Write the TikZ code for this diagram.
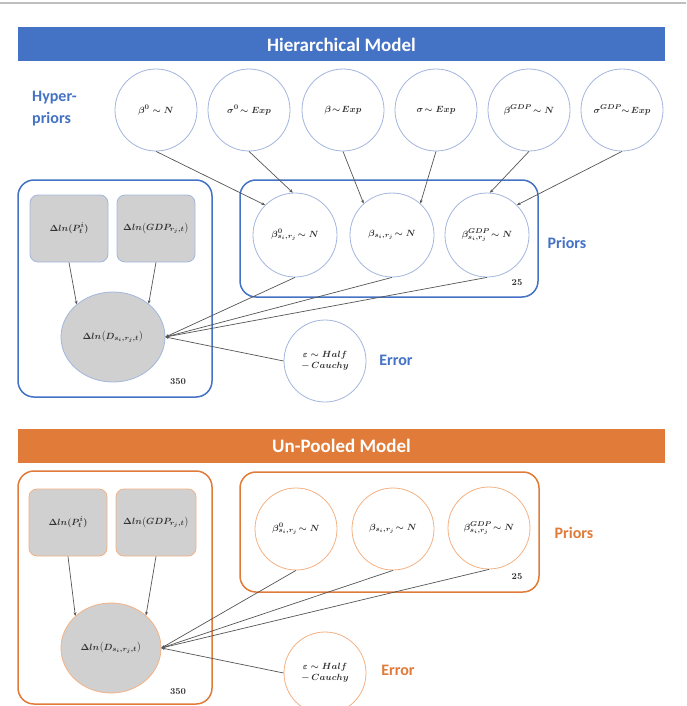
\documentclass[tikz,border=0pt]{standalone}
\usepackage{fontspec}
\usepackage{amsmath}
\newfontfamily\carl{Carlito}
\usetikzlibrary{shapes.geometric,arrows.meta}
\definecolor{mblue}{HTML}{4472C4}
\definecolor{lblue}{HTML}{A3B6DD}
\definecolor{morange}{HTML}{E07B39}
\definecolor{lorange}{HTML}{F4B183}
\definecolor{ngray}{HTML}{D0D0D0}
\definecolor{cline}{HTML}{555555}
\begin{document}
\begin{tikzpicture}[x=1pt,y=-1pt,
  mathfont/.style={font=\fontsize{9.5}{11}\selectfont\boldmath, text=black!80},
  rv/.style={circle, draw=#1, line width=0.8pt, fill=white, minimum size=82pt, inner sep=0pt, mathfont, align=center},
  obs/.style={rectangle, rounded corners=8pt, draw=#1, line width=0.8pt, fill=ngray, minimum width=78pt, minimum height=67pt, inner sep=0pt, mathfont},
  dep/.style={ellipse, draw=#1, line width=0.8pt, fill=ngray, minimum width=104pt, minimum height=90pt, inner sep=0pt, mathfont},
  plate/.style={draw=#1, line width=1.5pt, rounded corners=16pt},
  banner/.style={rectangle, fill=#1, minimum width=647pt, minimum height=34pt, inner sep=0pt, text=white, font=\carl\bfseries\fontsize{19}{21}\selectfont},
  lab/.style={text=#1, font=\carl\bfseries\fontsize{16}{17}\selectfont, inner sep=0pt},
  cnt/.style={font=\fontsize{9}{10}\selectfont\bfseries, text=black!80, inner sep=0pt},
  conn/.style={draw=cline, line width=0.7pt, -{Stealth[length=3.5pt,width=3pt]}}
]
\useasboundingbox (0,0) rectangle (686,706);
\fill[white] (0,0) rectangle (686,706);
\draw[black!25, line width=2pt] (0,3) -- (686,3);

% ===== Hierarchical model =====
\node[banner=mblue] (ban1) at (341.5,44.5) {Hierarchical Model};
\node[lab=mblue, align=left, anchor=west] (hyp) at (32,109) {Hyper-\\[5pt]priors};

\node[rv=lblue] (h1) at (156,110) {$\beta^{0}\sim N$};
\node[rv=lblue] (h2) at (249,110) {$\sigma^{0}\!\sim Exp$};
\node[rv=lblue] (h3) at (343,110) {$\beta\!\sim\! Exp$};
\node[rv=lblue] (h4) at (436,110) {$\sigma\!\sim Exp$};
\node[rv=lblue] (h5) at (529,110) {$\beta^{GDP}\!\sim N$};
\node[rv=lblue] (h6) at (622,110) {$\sigma^{GDP}\!\!\sim\! Exp$};

\draw[plate=mblue] (240,180) rectangle (538,297);
\node[rv=lblue, minimum size=84pt] (p1) at (295,235) {$\beta^{0}_{s_i,r_j}\!\sim N$};
\node[rv=lblue, minimum size=84pt] (p2) at (392,235) {$\beta_{s_i,r_j}\!\sim N$};
\node[rv=lblue, minimum size=84pt] (p3) at (487,235) {$\beta^{GDP}_{s_i,r_j}\!\sim N$};
\node[cnt] (n25a) at (517,283) {25};
\node[lab=mblue] (pria) at (567,243) {Priors};

\draw[plate=mblue] (18,180) rectangle (212,397);
\node[obs=lblue] (g1) at (69,228.5) {$\Delta ln(P_t^{i})$};
\node[obs=lblue] (g2) at (156,228.5) {$\Delta ln\bigl(GDP_{r_j,t}\bigr)$};
\node[dep=lblue] (d1) at (113,337) {$\Delta ln\bigl(D_{s_i,r_j,t}\bigr)$};
\node[cnt] (n350a) at (178,382) {350};

\node[rv=lblue] (e1) at (325,361) {$\varepsilon\sim Half$\\$-\,Cauchy$};
\node[lab=mblue] (erra) at (396,360) {Error};

\draw[conn] (h1.south) -- (p1.135);
\draw[conn] (h2.south) -- (p1.93);
\draw[conn] (h3.south) -- (p2.132);
\draw[conn] (h4.south) -- (p2.48);
\draw[conn] (h5.south) -- (p3.86);
\draw[conn] (h6.south) -- (p3.45);
\draw[conn] (g1.south) -- (d1.138);
\draw[conn] (g2.south) -- (d1.43);
\draw[conn] (p1.south) -- (d1.east);
\draw[conn] (p2.south) -- (d1.east);
\draw[conn] (p3.south) -- (d1.east);
\draw[conn] (e1.west) -- (d1.east);

% ===== Un-pooled model =====
\node[banner=morange] (ban2) at (341.5,445.5) {Un-Pooled Model};

\draw[plate=morange] (240,472) rectangle (539,592);
\node[rv=lorange] (q1) at (296,529) {$\beta^{0}_{s_i,r_j}\!\sim N$};
\node[rv=lorange] (q2) at (393,529) {$\beta_{s_i,r_j}\!\sim N$};
\node[rv=lorange] (q3) at (489,528) {$\beta^{GDP}_{s_i,r_j}\!\sim N$};
\node[cnt] (n25b) at (517,577) {25};
\node[lab=morange] (prib) at (574,533) {Priors};

\draw[plate=morange] (18,471) rectangle (212,704);
\node[obs=lorange] (k1) at (68,522.5) {$\Delta ln(P_t^{i})$};
\node[obs=lorange, minimum width=80pt] (k2) at (156,522.5) {$\Delta ln\bigl(GDP_{r_j,t}\bigr)$};
\node[dep=lorange, minimum width=100pt] (d2) at (111,648) {$\Delta ln\bigl(D_{s_i,r_j,t}\bigr)$};
\node[cnt] (n350b) at (178,692) {350};

\node[rv=lorange] (e2) at (325,673) {$\varepsilon\sim Half$\\$-\,Cauchy$};
\node[lab=morange] (errb) at (398,670) {Error};

\draw[conn] (k1.south) -- (d2.138);
\draw[conn] (k2.south) -- (d2.43);
\draw[conn] (q1.south) -- (d2.east);
\draw[conn] (q2.south) -- (d2.east);
\draw[conn] (q3.south) -- (d2.east);
\draw[conn] (e2.west) -- (d2.east);
\end{tikzpicture}
\end{document}
